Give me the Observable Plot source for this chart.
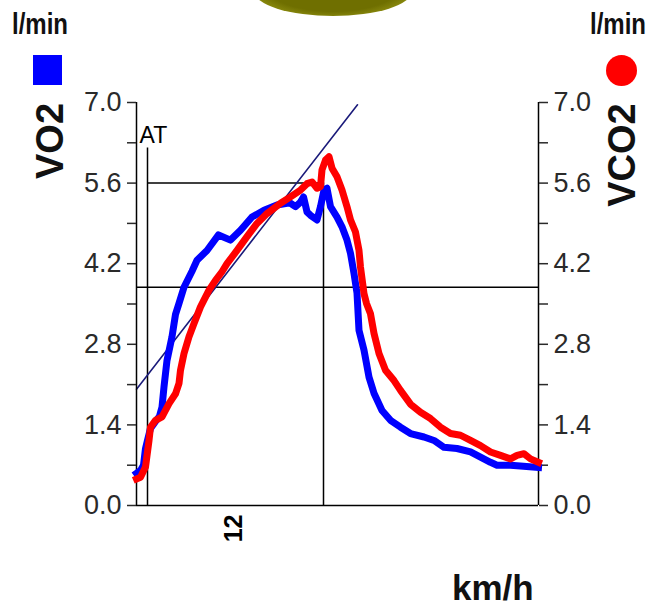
<!DOCTYPE html>
<html>
<head>
<meta charset="utf-8">
<script src="https://cdn.jsdelivr.net/npm/d3@7"></script>
<script src="https://cdn.jsdelivr.net/npm/@observablehq/plot@0.6"></script>
<style>
  html, body { margin: 0; padding: 0; background: #fff; }
  #wrap { position: relative; width: 661px; height: 606px; overflow: hidden; font-family: "Liberation Sans", Arial, sans-serif; }
  #wrap svg { position: absolute; left: 0; top: 0; }
  .lbl { position: absolute; font-weight: bold; color: #111; white-space: nowrap; line-height: 1; }
  .rot { transform-origin: center center; transform: translate(-50%, -50%) rotate(-90deg); }
  .narrowL { transform-origin: left top; transform: scaleX(0.8); }
  .narrowR { transform-origin: right top; transform: scaleX(0.8); }
</style>
</head>
<body>
<div id="wrap">
  <div id="blob" style="position:absolute;left:254px;top:-34px;width:158px;height:50px;border-radius:50%;background:radial-gradient(ellipse at 50% 40%, #6f6f00 60%, #8e8e10 78%, #c4c46a 95%, #e8e8c0 100%);"></div>
  <div class="lbl narrowL" style="left:12px;top:9px;font-size:30px;">l/min</div>
  <div class="lbl narrowR" style="right:15px;top:9px;font-size:30px;">l/min</div>
  <div style="position:absolute;left:33px;top:55px;width:29px;height:30px;background:#0000ff;"></div>
  <div style="position:absolute;left:606px;top:55px;width:31px;height:31px;border-radius:50%;background:#ff0000;"></div>
  <div class="lbl rot" style="left:50px;top:141px;font-size:38px;">VO2</div>
  <div class="lbl rot" style="left:622px;top:155px;font-size:38px;">VCO2</div>
  <div class="lbl" style="left:452px;top:570px;font-size:35px;">km/h</div>
</div>
<script>
// ---- data (x: elapsed time in s, y: l/min) ----
const vo2Time = [0,8,14,18,22,28,38,46,51,55,61,71,78,85,95,111,121,141,164,188,208,231,255,281,301,308,318,328,334,341,348,361,368,375,381,388,401,411,421,428,435,441,445,455,465,475,491,508,528,548,575,595,615,641,668,688,708,721,748,774,804];
const vo2Value = [0.56,0.61,0.70,0.99,1.13,1.34,1.46,1.55,1.71,2.06,2.52,2.93,3.32,3.51,3.79,4.07,4.26,4.43,4.70,4.61,4.78,5.01,5.13,5.22,5.25,5.25,5.19,5.27,5.36,5.10,5.04,4.96,5.19,5.48,5.51,5.19,5.01,4.84,4.61,4.38,4.03,3.69,3.04,2.70,2.23,1.95,1.65,1.48,1.36,1.25,1.19,1.13,1.01,0.99,0.93,0.84,0.75,0.70,0.70,0.68,0.66];

const vco2Time = [0,8,18,25,28,38,51,65,78,85,88,95,105,115,128,145,158,171,181,201,221,241,261,288,308,328,341,351,361,368,371,378,385,391,401,411,421,428,438,445,448,455,460,468,475,485,498,515,528,548,568,588,608,628,648,668,688,708,728,748,761,775,788,804];
const vco2Value = [0.46,0.49,0.67,1.13,1.36,1.48,1.54,1.77,1.94,2.12,2.35,2.64,2.93,3.16,3.45,3.74,3.91,4.06,4.20,4.43,4.67,4.90,5.07,5.25,5.36,5.48,5.59,5.62,5.51,5.54,5.83,6.00,6.06,5.86,5.71,5.48,5.19,4.96,4.75,4.43,4.14,3.68,3.51,3.33,2.99,2.64,2.35,2.17,2.00,1.76,1.62,1.51,1.36,1.25,1.22,1.13,1.04,0.93,0.87,0.81,0.87,0.90,0.81,0.75];

const timeDomain = [0, 804];
const flowDomain = [0, 7];
const flowTicks = [0, 0.7, 1.4, 2.1, 2.8, 3.5, 4.2, 4.9, 5.6, 6.3, 7.0];
const speedTickTimes = [194];
const speedTickLabels = ["12"];

const atTime = 22;          // anaerobic threshold marker
const atTop = 6.21;
const peakTime = 374;       // peak marker
const peakLevel = 5.6;
const thresholdLevel = 3.79;
const slopeLine = [{t: 0, v: 2.02}, {t: 442, v: 6.96}];

const vo2 = vo2Time.map((t, i) => ({t, v: vo2Value[i]}));
const vco2 = vco2Time.map((t, i) => ({t, v: vco2Value[i]}));
const speedTicks = speedTickTimes.map((t, i) => ({t, label: speedTickLabels[i]}));

const fmt = d => (Math.round(d / 0.7) % 2 === 0 ? d.toFixed(1) : "");

const chart = Plot.plot({
  width: 661,
  height: 606,
  marginLeft: 136,
  marginRight: 123,
  marginTop: 102,
  marginBottom: 101,
  style: {fontFamily: "'Liberation Sans', Arial, sans-serif", background: "transparent", overflow: "visible"},
  x: {domain: timeDomain, axis: null},
  y: {domain: flowDomain, axis: null},
  marks: [
    // reference lines
    Plot.ruleY([thresholdLevel], {x1: timeDomain[0], x2: timeDomain[1], stroke: "#000", strokeWidth: 1.5}),
    Plot.ruleY([peakLevel], {x1: atTime, x2: peakTime, stroke: "#000", strokeWidth: 1.5}),
    Plot.ruleX([peakTime], {y1: 0, y2: peakLevel, stroke: "#000", strokeWidth: 1.5}),
    Plot.ruleX([atTime], {y1: 0, y2: atTop, stroke: "#000", strokeWidth: 1.5}),
    Plot.line(slopeLine, {x: "t", y: "v", stroke: "#1a1a7a", strokeWidth: 1.6}),
    // axes
    Plot.ruleX(timeDomain, {y1: 0, y2: 7, stroke: "#000", strokeWidth: 1.5}),
    Plot.ruleY([0], {x1: timeDomain[0], x2: timeDomain[1], stroke: "#000", strokeWidth: 1.5}),
    Plot.axisY({anchor: "left", ticks: flowTicks, tickFormat: fmt, tickSize: 9, tickPadding: 6, fontSize: 27, color: "#2a2a2a", strokeWidth: 1.5, label: null}),
    Plot.axisY({anchor: "right", ticks: flowTicks, tickFormat: fmt, tickSize: 9, tickPadding: 6, fontSize: 27, color: "#2a2a2a", strokeWidth: 1.5, label: null}),
    // series
    Plot.line(vo2, {x: "t", y: "v", stroke: "#0000ff", strokeWidth: 7, strokeLinejoin: "round", strokeLinecap: "square"}),
    Plot.line(vco2, {x: "t", y: "v", stroke: "#ff0000", strokeWidth: 7, strokeLinejoin: "round", strokeLinecap: "square"}),
    // labels
    Plot.text([atTime], {x: d => d, y: atTop, text: () => "AT", dx: -8, dy: -5, textAnchor: "start", lineAnchor: "bottom", fontSize: 23, fill: "#000"}),
    Plot.text(speedTicks, {x: "t", frameAnchor: "bottom", text: "label", dy: 9, rotate: -90, textAnchor: "end", lineAnchor: "middle", fontSize: 25, fontWeight: "bold", fill: "#000"})
  ]
});
document.getElementById("wrap").prepend(chart);
</script>
</body>
</html>
